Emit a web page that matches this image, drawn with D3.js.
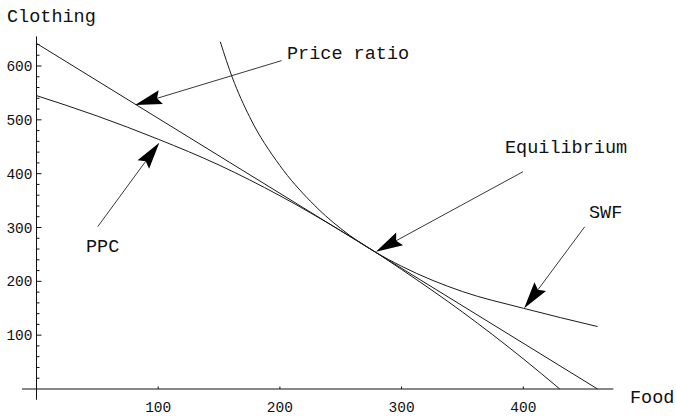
<!DOCTYPE html>
<html>
<head>
<meta charset="utf-8">
<script src="https://cdn.jsdelivr.net/npm/d3@7"></script>
<style>
  html, body { margin: 0; padding: 0; background: #fff; }
  svg { display: block; }
</style>
</head>
<body>
<svg id="chart" width="676" height="417"></svg>
<script>
// ---- data ----
const ppcFood      = [0, 50, 100, 150, 200, 250, 278, 300, 350, 400, 430];
const ppcClothing  = [545, 507, 464, 416, 359, 294, 255, 222, 143, 56, 0];

const priceFood     = [0, 461];
const priceClothing = [642, 0];

const swfFood     = [151, 161, 175, 200, 225, 250, 278, 300, 350, 400, 461];
const swfClothing = [645, 578, 506, 415, 349, 298, 255, 228, 181, 150, 116];

const xTicks = [100, 200, 300, 400];
const yTicks = [100, 200, 300, 400, 500, 600];
const yMinorTicks = d3.range(20, 660, 20).filter(v => v % 100 !== 0);

const labels = ["Price ratio", "PPC", "Equilibrium", "SWF"];
// arrow tail / tip in data units
const arrowTailFood     = [201.4, 50.3, 399.8, 450.5];
const arrowTailClothing = [610.0, 301.5, 403.7, 301.5];
const arrowTipFood      = [80.9, 100.9, 278.9, 400.7];
const arrowTipClothing  = [527.6, 457.5, 255.0, 149.9];

// ---- layout ----
const svg = d3.select("#chart");
const x = d3.scaleLinear().domain([0, 400]).range([36.5, 523.3]);
const y = d3.scaleLinear().domain([0, 600]).range([389, 66]);

const font = "'Liberation Mono', 'Courier New', monospace";
const ink = "#111";

// axes lines
svg.append("line")
  .attr("x1", x(-12)).attr("x2", x(474))
  .attr("y1", y(0)).attr("y2", y(0))
  .attr("stroke", ink).attr("stroke-width", 1);
svg.append("line")
  .attr("x1", x(0)).attr("x2", x(0))
  .attr("y1", y(-20)).attr("y2", y(655))
  .attr("stroke", ink).attr("stroke-width", 1);

// y ticks (inward, to the right)
svg.selectAll(".ymaj").data(yTicks).enter().append("line")
  .attr("x1", x(0)).attr("x2", x(0) + 5)
  .attr("y1", d => y(d)).attr("y2", d => y(d))
  .attr("stroke", ink).attr("stroke-width", 1);
svg.selectAll(".ymin").data(yMinorTicks).enter().append("line")
  .attr("x1", x(0)).attr("x2", x(0) + 3)
  .attr("y1", d => y(d)).attr("y2", d => y(d))
  .attr("stroke", ink).attr("stroke-width", 1);
svg.selectAll(".ylab").data(yTicks).enter().append("text")
  .attr("x", x(0) - 4).attr("y", d => y(d) + 5)
  .attr("text-anchor", "end")
  .attr("font-family", font).attr("font-size", 14.5)
  .attr("fill", ink)
  .text(d => d);

// x ticks (inward, upward)
svg.selectAll(".xmaj").data(xTicks).enter().append("line")
  .attr("x1", d => x(d)).attr("x2", d => x(d))
  .attr("y1", y(0)).attr("y2", y(0) - 2.5)
  .attr("stroke", ink).attr("stroke-width", 1);
svg.selectAll(".xlab").data(xTicks).enter().append("text")
  .attr("x", d => x(d)).attr("y", y(0) + 23)
  .attr("text-anchor", "middle")
  .attr("font-family", font).attr("font-size", 14.5)
  .attr("fill", ink)
  .text(d => d);

// axis titles
svg.append("text").attr("x", 7).attr("y", 21.5)
  .attr("font-family", font).attr("font-size", 18.5).attr("fill", ink)
  .text("Clothing");
svg.append("text").attr("x", 630).attr("y", 403)
  .attr("font-family", font).attr("font-size", 18.5).attr("fill", ink)
  .text("Food");

// curves
const line = d3.line().x(d => x(d[0])).y(d => y(d[1]));
function drawCurve(fx, fy, curve) {
  svg.append("path")
    .datum(fx.map((v, i) => [v, fy[i]]))
    .attr("d", line.curve(curve))
    .attr("fill", "none")
    .attr("stroke", "#1a1a1a")
    .attr("stroke-width", 1);
}
drawCurve(ppcFood, ppcClothing, d3.curveMonotoneX);
drawCurve(priceFood, priceClothing, d3.curveLinear);
drawCurve(swfFood, swfClothing, d3.curveMonotoneX);

// arrows
labels.forEach((lab, i) => {
  const tx = x(arrowTailFood[i]), ty = y(arrowTailClothing[i]);
  const hx = x(arrowTipFood[i]),  hy = y(arrowTipClothing[i]);
  const dx = hx - tx, dy = hy - ty, len = Math.hypot(dx, dy);
  const ux = dx / len, uy = dy / len, px = -uy, py = ux;
  const L = 27, W = 7.2, N = 23;
  svg.append("line")
    .attr("x1", tx).attr("y1", ty)
    .attr("x2", hx - ux * N).attr("y2", hy - uy * N)
    .attr("stroke", "#222").attr("stroke-width", 0.9);
  const pts = [
    [hx, hy],
    [hx - ux * L + px * W, hy - uy * L + py * W],
    [hx - ux * N, hy - uy * N],
    [hx - ux * L - px * W, hy - uy * L - py * W]
  ];
  svg.append("polygon")
    .attr("points", pts.map(p => p.join(",")).join(" "))
    .attr("fill", "#000");
});

// annotation labels
const labelPos = [[287, 59], [86, 252], [505, 153], [589, 218]];
labels.forEach((lab, i) => {
  svg.append("text")
    .attr("x", labelPos[i][0]).attr("y", labelPos[i][1])
    .attr("font-family", font).attr("font-size", 18.5).attr("fill", ink)
    .text(lab);
});
</script>
</body>
</html>
